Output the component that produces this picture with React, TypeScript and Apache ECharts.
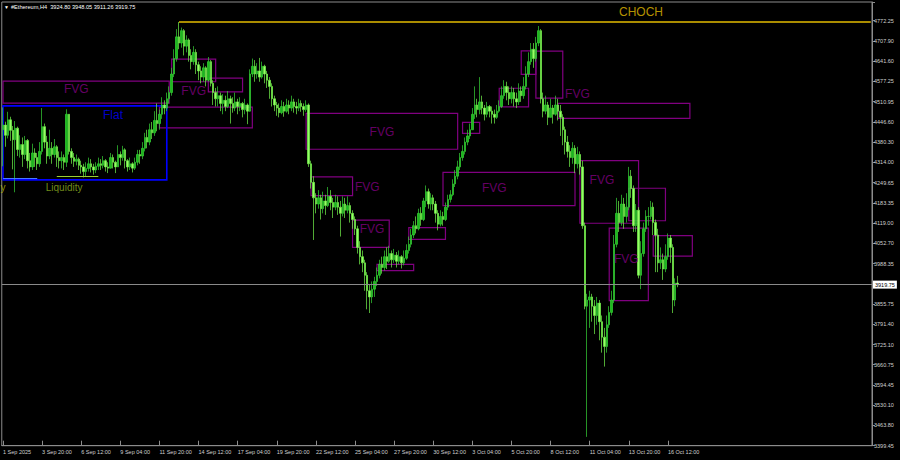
import React, { useEffect, useRef } from "react";
import * as echarts from "echarts";

// Ethereum H4 candles (open of each bar = previous close)
const firstOpen = 4420;
const closes = [
  4435, 4402, 4452, 4418, 4388, 4425, 4356, 4372,
  4340, 4385, 4320, 4300, 4345, 4330, 4310, 4350,
  4430, 4380, 4335, 4360, 4340, 4365, 4330, 4320,
  4330, 4315, 4470, 4350, 4330, 4318, 4325, 4305,
  4300, 4285, 4295, 4310, 4300, 4290, 4302, 4310,
  4305, 4320, 4300, 4296, 4330, 4315, 4300, 4340,
  4330, 4355, 4320, 4300, 4310, 4296, 4315, 4340,
  4335, 4360, 4395, 4380, 4420, 4410, 4450, 4440,
  4470, 4500, 4490, 4520, 4540, 4600, 4650, 4720,
  4700, 4740, 4690, 4710, 4660, 4640, 4670, 4630,
  4610, 4590, 4620, 4580, 4640, 4570, 4540, 4520,
  4530, 4505, 4515, 4495, 4520, 4505, 4490, 4510,
  4495, 4505, 4485, 4500, 4480, 4600, 4625, 4600,
  4610, 4590, 4625, 4600, 4580, 4560, 4520, 4500,
  4490, 4475, 4495, 4480, 4500, 4490, 4510, 4495,
  4490, 4505, 4495, 4485, 4500, 4310, 4250, 4200,
  4180, 4200, 4165, 4190, 4175, 4205, 4185, 4170,
  4185, 4170, 4150, 4180, 4160, 4175, 4150, 4130,
  4100, 4040, 4010, 3990, 3950, 3900, 3880, 3905,
  3930, 3950, 3985, 3975, 4010, 3995, 4020, 4000,
  4015, 3995, 4010, 3990, 4005, 4030, 4050, 4080,
  4110, 4100, 4150, 4130, 4190, 4220, 4180, 4200,
  4180, 4150, 4115, 4140, 4130, 4170, 4195, 4210,
  4245, 4270, 4300, 4330, 4350, 4380, 4400, 4420,
  4470, 4500, 4485, 4510, 4490, 4470, 4495, 4480,
  4470, 4460, 4480, 4495, 4530, 4560, 4540, 4520,
  4540, 4520, 4510, 4545, 4530, 4560, 4600, 4640,
  4680, 4650, 4700, 4740, 4520, 4480, 4500, 4460,
  4490, 4470, 4500, 4480, 4460, 4420, 4380, 4350,
  4330, 4360, 4310, 4340, 4300, 4110, 3850, 3870,
  3880, 3850, 3820, 3860, 3800, 3750, 3720, 3790,
  3830, 3870, 4050, 4150, 4120, 4180, 4140, 4170,
  4270, 4230, 4110, 4160, 3950, 4020, 4100, 4140,
  4140, 4170, 4120, 4080, 3990, 4000, 3970, 4010,
  4070, 4040, 3870, 3924.8, 3919.75,
];
const highs = [
  4492, 4446, 4478, 4462, 4432, 4448, 4430, 4402,
  4395, 4400, 4390, 4345, 4375, 4360, 4345, 4380,
  4490, 4440, 4400, 4420, 4380, 4390, 4370, 4350,
  4350, 4340, 4486, 4470, 4360, 4345, 4340, 4330,
  4320, 4310, 4315, 4330, 4325, 4310, 4315, 4330,
  4325, 4335, 4325, 4315, 4345, 4340, 4320, 4370,
  4350, 4368, 4360, 4325, 4330, 4315, 4330, 4355,
  4355, 4380, 4410, 4420, 4440, 4445, 4480, 4505,
  4485, 4525, 4515, 4540, 4560, 4620, 4680, 4745,
  4768, 4750, 4745, 4725, 4715, 4680, 4690, 4680,
  4640, 4625, 4635, 4625, 4655, 4645, 4580, 4555,
  4560, 4540, 4535, 4530, 4545, 4530, 4525, 4540,
  4520, 4525, 4510, 4520, 4505, 4615, 4650, 4645,
  4635, 4652, 4640, 4630, 4610, 4590, 4570, 4530,
  4510, 4505, 4515, 4510, 4520, 4515, 4530, 4520,
  4510, 4520, 4515, 4505, 4515, 4505, 4320, 4270,
  4215, 4225, 4210, 4220, 4210, 4235, 4225, 4200,
  4210, 4205, 4190, 4205, 4200, 4205, 4185, 4160,
  4140, 4110, 4060, 4030, 4000, 3960, 3920, 3930,
  3945, 3975, 4000, 4010, 4030, 4040, 4045, 4030,
  4035, 4025, 4030, 4015, 4030, 4050, 4075, 4100,
  4125, 4140, 4165, 4170, 4200, 4240, 4230, 4215,
  4210, 4190, 4160, 4160, 4155, 4185, 4210, 4225,
  4260, 4290, 4320, 4345, 4370, 4395, 4420, 4440,
  4490, 4560, 4520, 4590, 4530, 4500, 4510, 4500,
  4495, 4485, 4500, 4515, 4560, 4580, 4575, 4560,
  4560, 4555, 4540, 4570, 4560, 4590, 4625, 4670,
  4700, 4700, 4720, 4755, 4745, 4540, 4530, 4510,
  4520, 4500, 4530, 4520, 4500, 4470, 4430, 4400,
  4370, 4380, 4370, 4365, 4350, 4320, 4120, 3890,
  3900, 3890, 3870, 3880, 3870, 3820, 3780, 3820,
  3850, 3900, 4080, 4200, 4190, 4210, 4200, 4215,
  4300, 4290, 4240, 4180, 4170, 4060, 4120, 4160,
  4170, 4190, 4185, 4130, 4100, 4040, 4020, 4050,
  4085, 4080, 4050, 3940, 3948.05,
];
const lows = [
  4302, 4365, 4392, 4384, 4292, 4218, 4335, 4330,
  4300, 4325, 4295, 4285, 4290, 4300, 4290, 4300,
  4340, 4360, 4310, 4325, 4310, 4330, 4300, 4295,
  4295, 4290, 4300, 4340, 4310, 4300, 4305, 4290,
  4278, 4266, 4270, 4285, 4282, 4275, 4280, 4290,
  4290, 4295, 4285, 4280, 4295, 4295, 4280, 4300,
  4305, 4320, 4295, 4285, 4290, 4282, 4290, 4305,
  4310, 4325, 4350, 4360, 4370, 4390, 4400, 4415,
  4420, 4455, 4470, 4480, 4505, 4530, 4590, 4640,
  4680, 4685, 4660, 4670, 4640, 4615, 4630, 4600,
  4580, 4570, 4575, 4560, 4575, 4560, 4500, 4495,
  4495, 4480, 4470, 4480, 4490, 4440, 4475, 4480,
  4470, 4480, 4460, 4470, 4438, 4478, 4590, 4575,
  4585, 4575, 4585, 4570, 4555, 4520, 4495, 4480,
  4465, 4460, 4470, 4462, 4475, 4470, 4480, 4475,
  4470, 4480, 4478, 4465, 4478, 4300, 4230, 4064,
  4150, 4165, 4130, 4150, 4145, 4170, 4160, 4135,
  4160, 4145, 4075, 4140, 4135, 4150, 4120, 4100,
  4080, 4020, 3985, 3960, 3900, 3840, 3828, 3860,
  3880, 3915, 3940, 3955, 3965, 3970, 3990, 3975,
  3990, 3975, 3985, 3972, 3982, 4000, 4020, 4040,
  4070, 4085, 4095, 4110, 4125, 4170, 4165, 4160,
  4160, 4120, 4095, 4108, 4110, 4125, 4160, 4185,
  4205, 4235, 4260, 4290, 4320, 4340, 4370, 4390,
  4445, 4455, 4460, 4470, 4470, 4450, 4460, 4460,
  4440, 4440, 4455, 4475, 4490, 4520, 4515, 4500,
  4505, 4495, 4490, 4500, 4510, 4520, 4550, 4590,
  4630, 4620, 4640, 4690, 4505, 4460, 4470, 4435,
  4460, 4440, 4465, 4450, 4400, 4370, 4340, 4330,
  4300, 4310, 4280, 4295, 4275, 4100, 3840, 3428,
  3780, 3800, 3760, 3790, 3740, 3700, 3655, 3700,
  3780, 3820, 3860, 4040, 4090, 4110, 4100, 4120,
  4160, 4200, 4090, 4090, 3940, 3905, 4010, 4090,
  4110, 4130, 4080, 3960, 3960, 3970, 3935, 3960,
  4000, 3990, 3828, 3850, 3911.26,
];

// bar slots on the time axis (traded bars plus the empty right shift)
const slotCount = 356;
const categories = Array.from({ length: slotCount }, (_, i) => String(i));
const xLabelEvery = 16;
const xTickLabels = [
  "1 Sep 2025", "3 Sep 20:00", "6 Sep 12:00", "9 Sep 04:00", "11 Sep 20:00",
  "14 Sep 12:00", "17 Sep 04:00", "19 Sep 20:00", "22 Sep 12:00", "25 Sep 04:00",
  "27 Sep 20:00", "30 Sep 12:00", "3 Oct 04:00", "5 Oct 20:00", "8 Oct 12:00",
  "11 Oct 04:00", "13 Oct 20:00", "16 Oct 12:00",
];

// price scale
const yTickLabels = [
  "3399.45", "3463.80", "3530.10", "3594.45", "3660.75", "3725.10", "3791.40",
  "3855.75", "3922.05", "3988.35", "4052.70", "4119.00", "4183.35", "4249.65",
  "4314.00", "4380.30", "4446.60", "4510.95", "4577.25", "4641.60", "4707.90",
  "4772.25",
];
const yMin = 3399.45;
const yStep = (4772.25 - 3399.45) / 21;
const yMax = 4832.6;

// fair value gaps: [startBar, endBar, upper, lower]
const fvgZones = [
  [0, 68, 4577, 4506],
  [69, 87, 4648, 4575],
  [84, 98, 4587, 4542],
  [64, 102, 4493, 4426],
  [124, 186, 4473, 4357],
  [126, 143, 4268, 4207],
  [143, 158, 4128, 4040],
  [153, 168, 3985, 3965],
  [166, 181, 4104, 4066],
  [180, 234, 4282, 4175],
  [188, 195, 4444, 4408],
  [203, 215, 4554, 4494],
  [212, 218, 4675, 4599],
  [218, 229, 4674, 4522],
  [227, 281, 4505, 4457],
  [236, 260, 4320, 4118],
  [248, 264, 4102, 3868],
  [256, 271, 4231, 4126],
  [266, 282, 4078, 4012],
];
const fvgLabels = [
  [30, 4551], [78, 4545], [155, 4414], [149, 4234], [151, 4099],
  [201, 4231], [235, 4535], [245, 4258], [255, 4002],
];
const flatZone = [0, 67, 4497, 4258];
const flatLabel = [45, 4467];
const liquidityLines = [
  [0, 14, 4263],
  [22, 39, 4270],
];
const liquidityLabel = [25, 4233];
// tail of the previous liquidity label, at the left edge
const liquidityTail = { at: [0, 4233], text: "y" };
const chochLevel = { from: 72, to: slotCount - 1, price: 4768 };
const chochLabel = [261, 4800];
const symbolName = "#Ethereum,H4";

const FONT = "'Liberation Sans', Arial, sans-serif";
const PURPLE = "#800080";
const GOLD = "#e3bb00";

export default function App() {
  const ref = useRef<HTMLDivElement>(null);

  useEffect(() => {
    if (!ref.current) return;
    const chart = echarts.init(ref.current, undefined, { renderer: "svg" });

    const ohlc = closes.map((c, i) => {
      const o = i === 0 ? firstOpen : closes[i - 1];
      const h = Math.max(highs[i], o, c);
      const l = Math.min(lows[i], o, c);
      return [o, c, l, h];
    });
    const last = ohlc[ohlc.length - 1];
    const lastPrice = closes[closes.length - 1];
    const header = `${symbolName}  ${last[0].toFixed(2)} ${last[3].toFixed(2)} ${last[2].toFixed(2)} ${last[1].toFixed(2)}`;

    const boxStyle = (color: string, width: number) => ({
      color: "rgba(0,0,0,0)",
      borderColor: color,
      borderWidth: width,
    });

    const areas: any[] = fvgZones.map(([s, e, top, bot]) => [
      { coord: [s, top], itemStyle: boxStyle(PURPLE, 1.2) },
      { coord: [e, bot] },
    ]);
    areas.push([
      { coord: [flatZone[0], flatZone[2]], itemStyle: boxStyle("#0000ff", 1.6) },
      { coord: [flatZone[1], flatZone[3]] },
    ]);

    const lines: any[] = [
      [
        {
          coord: [chochLevel.from, chochLevel.price],
          lineStyle: { color: GOLD, width: 1.5, type: "solid" },
          label: { show: false },
        },
        { coord: [chochLevel.to, chochLevel.price] },
      ],
      [
        {
          coord: [liquidityLines[0][0], liquidityLines[0][2]],
          lineStyle: { color: "#4a78ff", width: 1, type: "solid" },
          label: { show: false },
        },
        { coord: [liquidityLines[0][1], liquidityLines[0][2]] },
      ],
      [
        {
          coord: [liquidityLines[1][0], liquidityLines[1][2]],
          lineStyle: { color: "#9acd32", width: 1.2, type: "solid" },
          label: { show: false },
        },
        { coord: [liquidityLines[1][1], liquidityLines[1][2]] },
      ],
      {
        yAxis: lastPrice,
        lineStyle: { color: "#8a8a8a", width: 1, type: "solid" },
        label: {
          show: true,
          position: "end",
          distance: 1,
          formatter: lastPrice.toFixed(2),
          color: "#000",
          backgroundColor: "#ffffff",
          padding: [1, 2, 1, 2],
          fontSize: 5.5,
          fontFamily: FONT,
        },
      },
    ];

    const textItem = (p: number[], text: string, color: string, size: number, pos = "inside") => ({
      value: [p[0], p[1]],
      label: {
        show: true,
        formatter: text,
        color,
        fontSize: size,
        fontFamily: FONT,
        position: pos,
        distance: 0,
      },
    });

    const texts = [
      ...fvgLabels.map((p) => textItem(p, "FVG", PURPLE, 12)),
      textItem(flatLabel, "Flat", "#0000ff", 12),
      textItem(liquidityLabel, "Liquidity", "#8fb020", 10),
      textItem(liquidityTail.at, liquidityTail.text, "#b8b800", 10),
      textItem(chochLabel, "CHOCH", GOLD, 12),
    ];

    const showX = (i: number) => i % xLabelEvery === 0 && i / xLabelEvery < xTickLabels.length;

    chart.setOption({
      animation: false,
      backgroundColor: "#000000",
      grid: {
        left: 1,
        right: 28,
        top: 2,
        bottom: 14.3,
        show: true,
        borderColor: "#8c8c8c",
        borderWidth: 1,
        backgroundColor: "#000000",
      },
      xAxis: {
        type: "category",
        data: categories,
        boundaryGap: true,
        axisLine: { show: true, lineStyle: { color: "#8c8c8c", width: 1 } },
        axisTick: {
          show: true,
          inside: true,
          length: 5,
          alignWithLabel: true,
          interval: (i: number) => showX(i),
          lineStyle: { color: "#8c8c8c" },
        },
        axisLabel: {
          show: true,
          interval: (i: number) => showX(i),
          formatter: (_v: string, i: number) => xTickLabels[i / xLabelEvery] ?? "",
          align: "left",
          margin: 3,
          color: "#d0d0d0",
          fontSize: 5.5,
          fontFamily: FONT,
        },
        splitLine: { show: false },
      },
      yAxis: {
        type: "value",
        position: "right",
        min: yMin,
        max: yMax,
        interval: yStep,
        axisLine: { show: true, lineStyle: { color: "#8c8c8c", width: 1 } },
        axisTick: { show: true, length: 3, lineStyle: { color: "#8c8c8c" } },
        axisLabel: {
          show: true,
          margin: 2,
          color: "#d0d0d0",
          fontSize: 5.5,
          fontFamily: FONT,
          formatter: (v: number) => {
            const k = Math.round((v - yMin) / yStep);
            return Math.abs(yMin + k * yStep - v) < 1 ? yTickLabels[k] ?? "" : "";
          },
        },
        splitLine: { show: false },
      },
      series: [
        {
          type: "candlestick",
          data: ohlc,
          barWidth: 1.9,
          clip: true,
          itemStyle: {
            color: "#1cb81c",
            borderColor: "#36d436",
            color0: "#96ff66",
            borderColor0: "#74f44c",
            borderWidth: 0.7,
          },
          markArea: {
            silent: true,
            label: { show: false },
            data: areas,
          },
          markLine: {
            silent: true,
            symbol: "none",
            animation: false,
            data: lines,
          },
        },
        {
          type: "scatter",
          symbolSize: 1,
          itemStyle: { color: "rgba(0,0,0,0)" },
          silent: true,
          z: 5,
          data: texts,
        },
      ],
      graphic: [
        {
          type: "text",
          left: 4,
          top: 4,
          style: { text: "▼", fill: "#ffffff", fontSize: 5, fontFamily: FONT },
        },
        {
          type: "text",
          left: 11,
          top: 3.5,
          style: { text: header, fill: "#ffffff", fontSize: 5.6, fontFamily: FONT },
        },
      ],
    });

    return () => chart.dispose();
  }, []);

  return (
    <div
      ref={ref}
      style={{ position: "fixed", left: 0, top: 0, width: 900, height: 460, background: "#000" }}
    />
  );
}
